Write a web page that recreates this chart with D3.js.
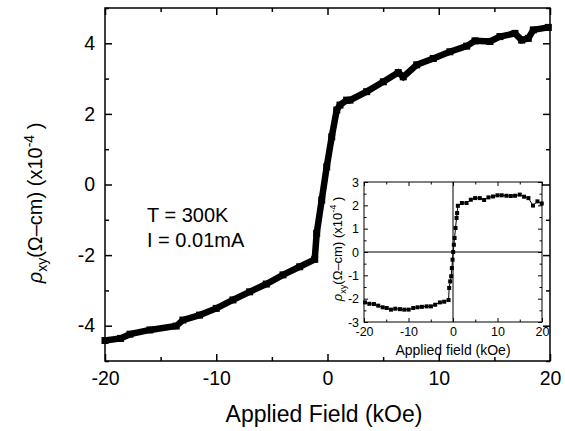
<!DOCTYPE html>
<html>
<head>
<meta charset="utf-8">
<script src="https://cdn.jsdelivr.net/npm/d3@7"></script>
<style>
  body { margin: 0; background: #fff; }
  svg { display: block; font-family: "Liberation Sans", Arial, sans-serif; }
  .domain { display: none; }
</style>
</head>
<body>
<div id="chart"></div>
<script>
// main curve: applied field (kOe) vs rho_xy (x1e-4 ohm-cm)
const mainField = [-20, -18.6, -17.75, -15.96, -13.6, -13.0, -11.5, -10.0, -8.5, -7.0, -5.5, -4.0, -2.5, -1.15,
  -0.97, -0.52, -0.07, 0.38, 0.83, 1.12, 1.72, 2.02, 3.52, 5.02, 6.36, 6.81, 8.02, 9.51, 11.0,
  12.51, 13.26, 14.6, 15.5, 16.85, 17.45, 18.05, 18.5, 19.85];
const mainRho = [-4.42, -4.36, -4.24, -4.12, -4.01, -3.84, -3.70, -3.51, -3.27, -3.04, -2.82, -2.56, -2.33, -2.12,
  -1.38, -0.44, 0.5, 1.35, 2.11, 2.25, 2.39, 2.39, 2.63, 2.91, 3.17, 3.05, 3.39, 3.57, 3.76,
  3.92, 4.07, 4.05, 4.19, 4.28, 4.09, 4.14, 4.38, 4.45];

// inset curve
const insetField = [-19.78, -18.8, -17.76, -16.8, -15.8, -14.9, -13.94, -12.97, -11.92, -10.95, -9.97, -8.93, -7.96,
  -6.99, -5.93, -4.97, -4.0, -2.95, -1.98, -1.0, -0.86, -0.63, -0.41, -0.26, -0.1, 0.04, 0.19, 0.35, 0.57,
  0.8, 0.93, 1.09, 1.99, 3.04, 4.0, 4.97, 6.02, 6.99, 7.97, 9.0, 9.99, 10.96, 12.0, 12.98, 13.95, 15.0,
  15.97, 16.95, 17.98, 18.97, 19.94];
const insetRho = [-2.16, -2.22, -2.23, -2.30, -2.37, -2.40, -2.47, -2.43, -2.45, -2.47, -2.47, -2.40, -2.37,
  -2.35, -2.33, -2.33, -2.26, -2.16, -2.13, -2.06, -1.54, -1.26, -1.04, -0.69, -0.33, 0.0, 0.31, 0.6, 1.03,
  1.46, 1.67, 1.98, 2.10, 2.10, 2.24, 2.31, 2.31, 2.23, 2.34, 2.38, 2.43, 2.43, 2.41, 2.40, 2.41, 2.46,
  2.37, 2.31, 1.99, 2.17, 2.08];

const xMajor = [-20, -10, 0, 10, 20];
const xMinor = [-15, -5, 5, 15];
const yMajor = [-4, -2, 0, 2, 4];
const yMinor = [-5, -3, -1, 1, 3, 5];
const insetYMajor = [-3, -2, -1, 0, 1, 2, 3];
const insetYMinor = [-2.5, -1.5, -0.5, 0.5, 1.5, 2.5];

const W = 565, H = 431;
const svg = d3.select("#chart").append("svg").attr("width", W).attr("height", H);

// frame helper: draws mirrored inward ticks on 4 sides
function drawFrame(g, x, y, opts) {
  const [x0, x1] = x.range(), [y0, y1] = y.range();
  const w = x1 - x0, h = y0 - y1;
  const fmt = d => d3.format("d")(d).replace("−", "-");

  g.append("g").attr("transform", `translate(0,${y0})`)
    .call(d3.axisBottom(x).tickValues(opts.xMajor).tickSize(-opts.major).tickPadding(opts.pad + opts.major).tickFormat(fmt))
    .call(s => s.selectAll("text").attr("font-size", opts.fs).attr("fill", "#000"));
  g.append("g").attr("transform", `translate(0,${y0})`)
    .call(d3.axisBottom(x).tickValues(opts.xMinor).tickSize(-opts.minor).tickFormat(""));
  g.append("g").attr("transform", `translate(0,${y1})`)
    .call(d3.axisTop(x).tickValues(opts.xMajor).tickSize(-opts.major).tickFormat(""));
  g.append("g").attr("transform", `translate(0,${y1})`)
    .call(d3.axisTop(x).tickValues(opts.xMinor).tickSize(-opts.minor).tickFormat(""));

  g.append("g").attr("transform", `translate(${x0},0)`)
    .call(d3.axisLeft(y).tickValues(opts.yMajor).tickSize(-opts.major).tickPadding(opts.pad + opts.major).tickFormat(fmt))
    .call(s => s.selectAll("text").attr("font-size", opts.fs).attr("fill", "#000"));
  g.append("g").attr("transform", `translate(${x0},0)`)
    .call(d3.axisLeft(y).tickValues(opts.yMinor).tickSize(-opts.minor).tickFormat(""));
  g.append("g").attr("transform", `translate(${x1},0)`)
    .call(d3.axisRight(y).tickValues(opts.yMajor).tickSize(-opts.major).tickFormat(""));
  g.append("g").attr("transform", `translate(${x1},0)`)
    .call(d3.axisRight(y).tickValues(opts.yMinor).tickSize(-opts.minor).tickFormat(""));

  g.selectAll(".tick line").attr("stroke", "#000").attr("stroke-width", opts.sw);
  g.selectAll("text").attr("font-family", "'Liberation Sans', Arial, sans-serif");

  g.append("rect").attr("x", x0).attr("y", y1).attr("width", w).attr("height", h)
    .attr("fill", "none").attr("stroke", "#000").attr("stroke-width", opts.sw);
}

// ---------------- main plot ----------------
const x = d3.scaleLinear().domain([-20, 20]).range([105, 550]);
const y = d3.scaleLinear().domain([-5, 5]).range([361, 8]);

const main = svg.append("g");
drawFrame(main, x, y, { xMajor, xMinor, yMajor, yMinor, major: 7, minor: 4, pad: 3, fs: 19.5, sw: 1.5 });

const mainPts = mainField.map((f, i) => [f, mainRho[i]]);
main.append("path")
  .datum(mainPts)
  .attr("fill", "none").attr("stroke", "#000").attr("stroke-width", 6.5)
  .attr("stroke-linejoin", "miter")
  .attr("d", d3.line().x(d => x(d[0])).y(d => y(d[1])));
main.selectAll("rect.pt").data(mainPts).enter().append("rect")
  .attr("class", "pt")
  .attr("x", d => x(d[0]) - 3.5).attr("y", d => y(d[1]) - 3.5)
  .attr("width", 7).attr("height", 7).attr("fill", "#000");

// axis titles
svg.append("text").attr("x", 324).attr("y", 422).attr("text-anchor", "middle")
  .attr("font-size", 23).text("Applied Field (kOe)");

function rhoLabel(sel, fs, shift) {
  sel.append("tspan").attr("font-style", "italic").text("ρ");
  sel.append("tspan").attr("font-size", fs * 0.7).attr("dy", shift).text("xy");
  sel.append("tspan").attr("dy", -shift).text("(Ω–cm) (x10");
  sel.append("tspan").attr("font-size", fs * 0.7).attr("dy", -shift * 1.6).text("-4");
  sel.append("tspan").attr("dy", shift * 1.6).text(" )");
}
const yTitle = svg.append("text").attr("transform", "translate(42,203) rotate(-90)")
  .attr("text-anchor", "middle").attr("font-size", 20);
rhoLabel(yTitle, 20, 5);

// annotation
svg.append("text").attr("x", 147).attr("y", 222).attr("font-size", 20).text("T = 300K");
svg.append("text").attr("x", 147).attr("y", 247).attr("font-size", 20).text("I = 0.01mA");

// ---------------- inset ----------------
const ix = d3.scaleLinear().domain([-20, 20]).range([364, 542]);
const iy = d3.scaleLinear().domain([-3, 3]).range([322, 182]);
const inset = svg.append("g");
drawFrame(inset, ix, iy, { xMajor, xMinor, yMajor: insetYMajor, yMinor: insetYMinor, major: 4, minor: 2.5, pad: 1, fs: 12.5, sw: 1 });

// zero lines
inset.append("line").attr("x1", ix(-20)).attr("x2", ix(20)).attr("y1", iy(0)).attr("y2", iy(0))
  .attr("stroke", "#000").attr("stroke-width", 1);
inset.append("line").attr("x1", ix(0)).attr("x2", ix(0)).attr("y1", iy(-3)).attr("y2", iy(3))
  .attr("stroke", "#000").attr("stroke-width", 1);

const insetPts = insetField.map((f, i) => [f, insetRho[i]]);
inset.append("path").datum(insetPts)
  .attr("fill", "none").attr("stroke", "#000").attr("stroke-width", 1)
  .attr("d", d3.line().x(d => ix(d[0])).y(d => iy(d[1])));
inset.selectAll("rect.pt").data(insetPts).enter().append("rect")
  .attr("class", "pt")
  .attr("x", d => ix(d[0]) - 2).attr("y", d => iy(d[1]) - 2)
  .attr("width", 4).attr("height", 4).attr("fill", "#000");

svg.append("text").attr("x", 453).attr("y", 355).attr("text-anchor", "middle")
  .attr("font-size", 14).text("Applied field (kOe)");
const iyTitle = svg.append("text").attr("transform", "translate(342,249) rotate(-90)")
  .attr("text-anchor", "middle").attr("font-size", 13);
rhoLabel(iyTitle, 13, 3.5);
</script>
</body>
</html>
